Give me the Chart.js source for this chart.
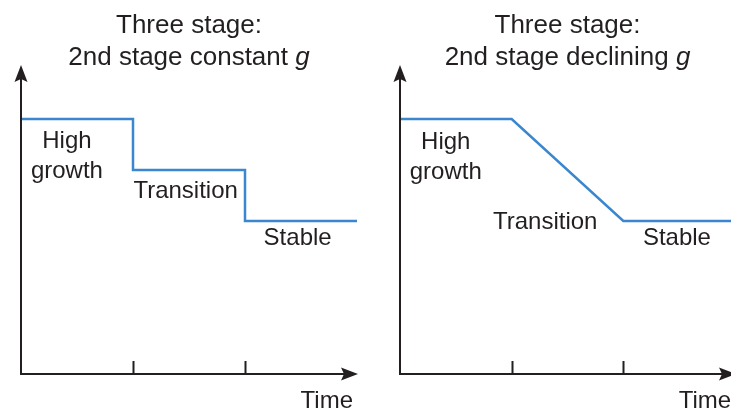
<!DOCTYPE html>
<html>
<head>
<meta charset="utf-8">
<script src="https://cdn.jsdelivr.net/npm/chart.js@4.4.1/dist/chart.umd.min.js"></script>
<style>
  html, body { margin: 0; padding: 0; background: #fff; overflow: hidden; }
  body { width: 731px; height: 412px; position: relative; }
  .panel { position: absolute; top: 0; width: 380px; height: 412px; }
  #left { left: 0; }
  #right { left: 380px; }
</style>
</head>
<body>
<div class="panel" id="left"><canvas id="constantChart"></canvas></div>
<div class="panel" id="right"><canvas id="decliningChart"></canvas></div>
<script>
// growth rate over time, arbitrary units (x: 0..3 stages, y: 0..6)
const stages = ['High growth', 'Transition', 'Stable'];
const stageTicks = [1, 2];

const constantTime = [0, 1, 1, 2, 2, 3];
const constantGrowth = [5, 5, 4, 4, 3, 3];

const decliningTime = [0, 1, 2, 3];
const decliningGrowth = [5, 5, 3, 3];

const ink = '#231f20';
const blue = '#3a86cf';
const font = "'Liberation Sans', Arial, sans-serif";

// where the stage names sit, in axis units
const constantLabels = [
  { text: ['High', 'growth'], x: 0.41, y: 4.28 },
  { text: ['Transition'], x: 1.47, y: 3.6 },
  { text: ['Stable'], x: 2.47, y: 2.68 }
];
const decliningLabels = [
  { text: ['High', 'growth'], x: 0.41, y: 4.26 },
  { text: ['Transition'], x: 1.30, y: 2.99 },
  { text: ['Stable'], x: 2.48, y: 2.68 }
];

function arrowHead(ctx, x, y, dir) {
  // dir: 'up' or 'right'
  const len = 17, half = 6.5, notch = 3;
  ctx.beginPath();
  if (dir === 'up') {
    ctx.moveTo(x, y);
    ctx.lineTo(x + half, y + len);
    ctx.lineTo(x, y + len - notch);
    ctx.lineTo(x - half, y + len);
  } else {
    ctx.moveTo(x, y);
    ctx.lineTo(x - len, y - half);
    ctx.lineTo(x - len + notch, y);
    ctx.lineTo(x - len, y + half);
  }
  ctx.closePath();
  ctx.fill();
}

const axesPlugin = {
  id: 'axes',
  afterDatasetsDraw(chart, args, opts) {
    const ctx = chart.ctx;
    const xs = chart.scales.x, ys = chart.scales.y;
    const x0 = xs.getPixelForValue(0);
    const y0 = ys.getPixelForValue(0);
    const yTop = ys.getPixelForValue(6) - 3;
    const xEnd = xs.getPixelForValue(3) + 1;

    ctx.save();
    ctx.strokeStyle = ink;
    ctx.fillStyle = ink;
    ctx.lineWidth = 2;
    ctx.beginPath();
    ctx.moveTo(x0, y0);
    ctx.lineTo(x0, yTop + 10);
    ctx.moveTo(x0 - 1, y0);
    ctx.lineTo(xEnd - 10, y0);
    stageTicks.forEach(t => {
      const px = Math.round(xs.getPixelForValue(t)) + 0.5;
      ctx.moveTo(px, y0);
      ctx.lineTo(px, y0 - 13);
    });
    ctx.stroke();
    arrowHead(ctx, x0, yTop, 'up');
    arrowHead(ctx, xEnd, y0, 'right');

    // title, with the italic g
    const cx = (chart.chartArea.left + chart.chartArea.right) / 2;
    ctx.textBaseline = 'middle';
    ctx.textAlign = 'center';
    ctx.font = '26px ' + font;
    ctx.fillText(opts.title[0], cx, 26);
    const plain = opts.title[1] + ' ';
    const wPlain = ctx.measureText(plain).width;
    ctx.font = 'italic 26px ' + font;
    const wG = ctx.measureText('g').width;
    const start = cx - (wPlain + wG) / 2;
    ctx.textAlign = 'left';
    ctx.font = '26px ' + font;
    ctx.fillText(plain, start, 58);
    ctx.font = 'italic 26px ' + font;
    ctx.fillText('g', start + wPlain, 58);

    ctx.font = '24px ' + font;
    ctx.textAlign = 'center';
    opts.labels.forEach(l => {
      const px = xs.getPixelForValue(l.x);
      const py = ys.getPixelForValue(l.y);
      const lh = 30;
      l.text.forEach((line, i) => {
        ctx.fillText(line, px, py + (i - (l.text.length - 1) / 2) * lh + 1);
      });
    });
    ctx.fillText('Time', xs.getPixelForValue(2.73), y0 + 27);
    ctx.restore();
  }
};

function makeChart(id, title, time, growth, labels, pad) {
  return new Chart(document.getElementById(id), {
    type: 'line',
    data: {
      datasets: [{
        label: 'Growth rate',
        data: time.map((t, i) => ({ x: t, y: growth[i] })),
        borderColor: blue,
        borderWidth: 2.5,
        pointRadius: 0,
        tension: 0,
        clip: false
      }]
    },
    options: {
      responsive: false,
      animation: false,
      devicePixelRatio: 1,
      layout: { padding: pad },
      plugins: {
        legend: { display: false },
        tooltip: { enabled: false },
        title: { display: false },
        axes: { labels: labels, title: title }
      },
      scales: {
        x: { type: 'linear', min: 0, max: 3, display: false },
        y: { type: 'linear', min: 0, max: 6, display: false }
      }
    },
    plugins: [axesPlugin]
  });
}

['constantChart', 'decliningChart'].forEach(id => {
  document.getElementById(id).width = 380;
  document.getElementById(id).height = 412;
});

makeChart('constantChart', ['Three stage:', '2nd stage constant'], constantTime, constantGrowth,
  constantLabels, { left: 21, right: 23, top: 68, bottom: 38 });
makeChart('decliningChart', ['Three stage:', '2nd stage declining'], decliningTime, decliningGrowth,
  decliningLabels, { left: 20, right: 25, top: 68, bottom: 38 });
</script>
</body>
</html>
